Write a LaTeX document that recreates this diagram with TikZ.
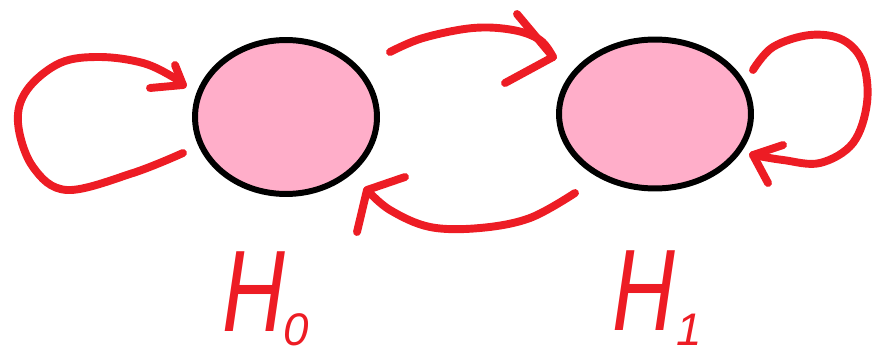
\documentclass[tikz,border=0pt]{standalone}
\usepackage{fontspec}
\setmainfont{Liberation Sans}
\usetikzlibrary{shapes.geometric}
\definecolor{pred}{RGB}{237,28,36}
\definecolor{ppink}{RGB}{255,174,201}
\begin{document}
\begin{tikzpicture}[x=0.02cm,y=-0.02cm,
  state/.style={ellipse,draw=black,fill=ppink,line width=3.4pt,inner sep=0pt},
  edge/.style={draw=pred,line width=4.5pt,line cap=round,line join=round},
  lab/.style={text=pred,font=\itshape\fontsize{66}{66}\selectfont,inner sep=0pt}]
\useasboundingbox (0,0) rectangle (876,355);
\node[state,minimum width=3.64cm,minimum height=3.08cm] (h0) at (286,117) {};
\node[state,minimum width=3.84cm,minimum height=2.98cm] (h1) at (655,114) {};
% left self loop
\coordinate (a0) at (183,153);
\coordinate (a1) at (183,85);
\draw[edge] plot[smooth,tension=0.6] coordinates {(a0) (133,173) (67,190) (33,167) (18,123) (27,90) (60,63) (100,57) (143,63) (173,77) (a1)};
\draw[edge] (150,88) -- (a1) -- (175,65);
% top arrow
\coordinate (b0) at (390,52);
\coordinate (b1) at (553,57);
\draw[edge] plot[smooth,tension=0.6] coordinates {(b0) (423,38) (473,28) (513,30) (540,40) (b1)};
\draw[edge] (517,14) -- (b1) -- (505,83);
% bottom arrow
\coordinate (c0) at (575,193);
\coordinate (c1) at (367,190);
\draw[edge] plot[smooth,tension=0.6] coordinates {(c0) (530,218) (480,228) (430,227) (390,210) (c1)};
\draw[edge] (405,177) -- (c1) -- (357,232);
% right self loop
\coordinate (d0) at (753,70);
\coordinate (d1) at (753,155);
\draw[edge] plot[smooth,tension=0.6] coordinates {(d0) (773,47) (810,35) (843,40) (863,63) (867,103) (853,143) (820,163) (783,160) (d1)};
\draw[edge] (783,145) -- (d1) -- (768,183);
% labels
\node[lab,anchor=base west] (t0) at (222,331) {\scalebox{0.75}[1]{H}\kern-1pt\raisebox{-8pt}{\fontsize{26}{26}\selectfont 0}};
\node[lab,anchor=base west] (t1) at (612,330) {\scalebox{0.75}[1]{H}\kern1pt\raisebox{-9pt}{\fontsize{26}{26}\selectfont 1}};
\end{tikzpicture}
\end{document}
